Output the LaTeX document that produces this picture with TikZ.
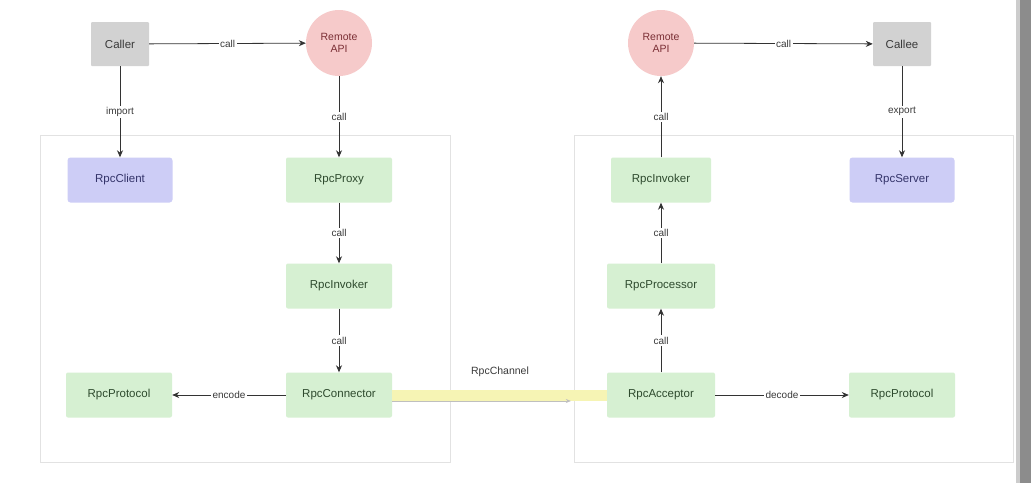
\documentclass[tikz,border=0pt]{standalone}
\usepackage{fontspec}
\setmainfont{Liberation Sans}
\usetikzlibrary{arrows.meta}
\definecolor{boxgray}{HTML}{D2D2D2}
\definecolor{apipink}{HTML}{F6CACA}
\definecolor{compgreen}{HTML}{D6F0D2}
\definecolor{compblue}{HTML}{CDCDF6}
\definecolor{panelline}{HTML}{E2E2E2}
\definecolor{channelyellow}{HTML}{F6F4B4}
\definecolor{txtgreen}{HTML}{2E4A2E}
\definecolor{txtred}{HTML}{7A2E34}
\definecolor{txtblue}{HTML}{34346A}
\definecolor{txtgray}{HTML}{3A3A3A}
\begin{document}
\begin{tikzpicture}[x=1pt,y=-1pt,
  every node/.style={font=\fontsize{11.5}{13}\selectfont},
  actor/.style={fill=boxgray, text=txtgray, minimum width=58pt, minimum height=44pt, inner sep=0pt, rounded corners=1pt},
  api/.style={circle, fill=apipink, text=txtred, minimum size=66pt, inner sep=0pt, align=center, font=\fontsize{10.5}{12}\selectfont},
  comp/.style={fill=compgreen, text=txtgreen, minimum width=106pt, minimum height=45pt, inner sep=0pt, rounded corners=2pt},
  client/.style={fill=compblue, text=txtblue, minimum width=105pt, minimum height=45pt, inner sep=0pt, rounded corners=3pt},
  link/.style={draw=black!80, line width=0.8pt, -{Stealth[length=7pt,width=6pt]}},
  lbl/.style={fill=white, text=txtgray, inner sep=1.5pt, font=\fontsize{10}{12}\selectfont},
  panel/.style={draw=panelline, line width=0.9pt},
  channel/.style={draw=channelyellow, line width=11pt},
]
% canvas
\useasboundingbox (0,0) rectangle (1031,483);
\fill[white] (0,0) rectangle (1031,483);
\fill[black!45] (1020,0) rectangle (1031,483);
\fill[black!20] (1016,0) rectangle (1020,483);

% client and server panels
\draw[panel] (40,135) rectangle (450,462);
\draw[panel] (574,135) rectangle (1013,462);

% caller side
\node[actor] (caller) at (120,44) {Caller};
\node[api] (apiL) at (339,43) {Remote\\API};
\node[client] (client) at (120,180) {RpcClient};
\node[comp] (proxy) at (339,180) {RpcProxy};
\node[comp] (invL) at (339,286) {RpcInvoker};
\node[comp] (conn) at (339,395) {RpcConnector};
\node[comp] (protoL) at (119,395) {RpcProtocol};

% callee side
\node[api] (apiR) at (661,43) {Remote\\API};
\node[actor] (callee) at (902,44) {Callee};
\node[client] (server) at (902,180) {RpcServer};
\node[comp, minimum width=100pt] (invR) at (661,180) {RpcInvoker};
\node[comp, minimum width=108pt] (proc) at (661,286) {RpcProcessor};
\node[comp, minimum width=108pt] (acc) at (661,395) {RpcAcceptor};
\node[comp] (protoR) at (902,395) {RpcProtocol};

% channel between connector and acceptor
\draw[channel] (conn.east) -- (acc.west);
\draw[draw=black!25, line width=0.5pt, -{Stealth[length=5pt,width=4pt]}] ([yshift=-6pt]conn.east) -- ([xshift=-36pt,yshift=-6pt]acc.west);
\node[text=txtgray, font=\fontsize{10.5}{12}\selectfont] (chan) at (500,372) {RpcChannel};

% caller-side connectors
\draw[link] (caller) -- node[lbl] {call} (apiL);
\draw[link] (caller) -- node[lbl, pos=0.5] {import} (client);
\draw[link] (apiL) -- node[lbl, pos=0.5] {call} (proxy);
\draw[link] (proxy) -- node[lbl] {call} (invL);
\draw[link] (invL) -- node[lbl] {call} (conn);
\draw[link] (conn) -- node[lbl] {encode} (protoL);

% callee-side connectors
\draw[link] (apiR) -- node[lbl] {call} (callee);
\draw[link] (callee) -- node[lbl, pos=0.5] {export} (server);
\draw[link] (invR) -- node[lbl, pos=0.5] {call} (apiR);
\draw[link] (proc) -- node[lbl] {call} (invR);
\draw[link] (acc) -- node[lbl] {call} (proc);
\draw[link] (acc) -- node[lbl] {decode} (protoR);
\end{tikzpicture}
\end{document}
